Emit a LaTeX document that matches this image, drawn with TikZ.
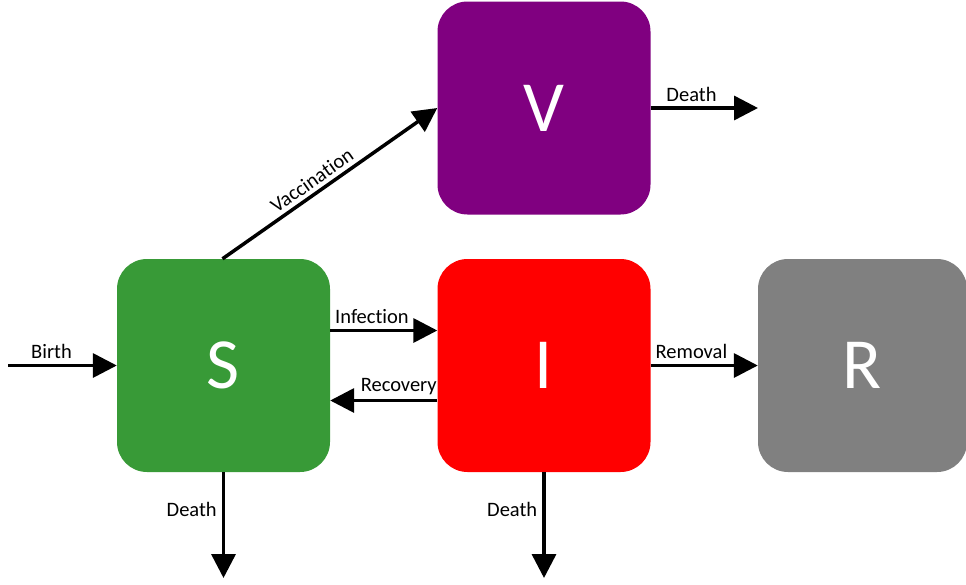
\documentclass[tikz,border=0pt]{standalone}
\usepackage{fontspec}
\setmainfont[Ligatures=NoCommon]{Carlito}
\usetikzlibrary{arrows.meta}
\definecolor{sgreen}{RGB}{56,154,55}
\definecolor{vpurple}{RGB}{128,0,128}
\definecolor{ired}{RGB}{255,0,0}
\definecolor{rgray}{RGB}{128,128,128}
\begin{document}
\begin{tikzpicture}[x=1pt,y=-1pt,
  comp/.style={rounded corners=30pt, minimum width=213pt, minimum height=213pt, inner sep=0pt, text=white, font=\fontsize{72}{72}\selectfont},
  flow/.style={line width=3.5pt, -{Triangle[length=24pt,width=24pt]}},
  lbl/.style={font=\fontsize{20.5}{20.5}\selectfont, inner sep=2pt}]
\useasboundingbox (0,0) rectangle (966,584);
\node[comp, fill=sgreen] (S) at (223.5,365.5) {S};
\node[comp, fill=ired] (I) at (544,365.5) {I};
\node[comp, fill=vpurple] (V) at (544,108) {V};
\node[comp, fill=rgray, minimum width=209pt] (R) at (862.5,365.5) {R};
\coordinate (birth) at (8,365.5);
\coordinate (vdeath) at (758,108);
\coordinate (sdeath) at (223.5,578);
\coordinate (ideath) at (544,578);
\draw[flow] (birth) -- node[lbl, above=3pt, pos=0.4] {Birth} (S.west);
\draw[flow] ([yshift=35pt]S.east) -- node[lbl, above=3pt, pos=0.39] {Infection} ([yshift=35pt]I.west);
\draw[flow] ([yshift=-35pt]I.west) -- node[lbl, above=2pt, pos=0.36] {Recovery} ([yshift=-35pt]S.east);
\draw[flow] (I.east) -- node[lbl, above=3pt, pos=0.38] {Removal} (R.west);
\draw[flow] (V.east) -- node[lbl, above=3pt, pos=0.38] {Death} (vdeath);
\draw[flow] ([xshift=-1pt]S.north) -- node[lbl, above=2pt, sloped, pos=0.45] {Vaccination} (V.west);
\draw[flow] (S.south) -- node[lbl, left=3pt, pos=0.35] {Death} (sdeath);
\draw[flow] (I.south) -- node[lbl, left=3pt, pos=0.35] {Death} (ideath);
\end{tikzpicture}
\end{document}
